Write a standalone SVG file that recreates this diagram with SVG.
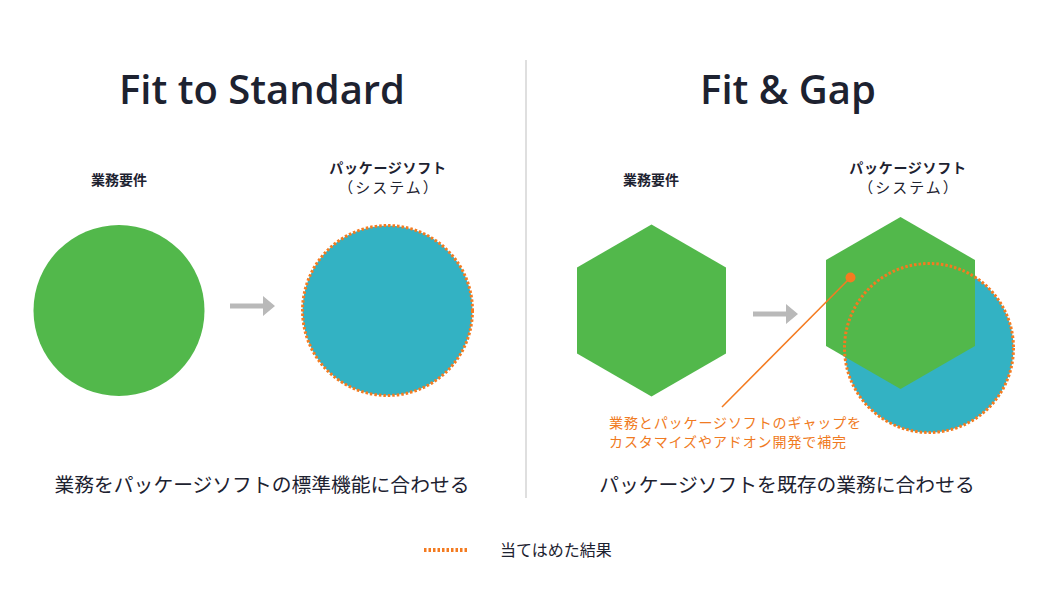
<svg xmlns="http://www.w3.org/2000/svg" width="1050" height="600" viewBox="0 0 1050 600">
<style>
.title{font-family:"Open Sans","Noto Sans CJK JP",sans-serif;font-weight:600;font-size:40px;fill:#1d2230;text-anchor:middle}
.lbl{font-family:"Noto Sans CJK JP",sans-serif;font-weight:700;font-size:14px;fill:#1d2230;text-anchor:middle}
.pkg{letter-spacing:0.7px}
.sub{font-family:"Noto Sans CJK JP",sans-serif;font-size:15px;letter-spacing:2px;fill:#1d2230;text-anchor:middle}
.cap{font-family:"Noto Sans CJK JP",sans-serif;font-size:19.8px;fill:#1d2230;text-anchor:middle}
.note{font-family:"Noto Sans CJK JP",sans-serif;font-size:14px;letter-spacing:0.9px;fill:#f07a22}
.green{fill:#52b84b}
.teal{fill:#33b2c3}
.dots{fill:none;stroke:#f47b20;stroke-width:3;stroke-dasharray:2.5 2}
.arrow{fill:#b9b9b9}
</style>
<defs>
<polygon id="hex" points="0,-86 74.5,-43 74.5,43 0,86 -74.5,43 -74.5,-43"/>
<path id="arr" d="M0,-2.5 H33 V-10 L45,0 L33,10 V2.5 H0 Z"/>
</defs>
<rect width="1050" height="600" fill="#fff"/>
<line x1="526" y1="60" x2="526" y2="498" stroke="#d5d5d5" stroke-width="1.5"/>

<g id="left-title"><text class="title" x="262" y="104">Fit to Standard</text></g>
<g id="right-title"><text class="title" x="788" y="104">Fit &amp; Gap</text></g>

<g id="left-business">
<text class="lbl" x="119" y="185">業務要件</text>
<circle class="green" cx="119" cy="310.5" r="85.5"/>
</g>
<g id="left-package">
<text class="lbl pkg" x="388" y="173">パッケージソフト</text>
<text class="sub" x="389" y="193">（システム）</text>
<circle class="teal" cx="387.5" cy="310.5" r="85"/>
<circle class="dots" cx="387.5" cy="310.5" r="85"/>
</g>

<g id="right-business">
<text class="lbl" x="651" y="185">業務要件</text>
<use href="#hex" class="green" x="651.5" y="310.5"/>
</g>
<g id="right-package">
<text class="lbl pkg" x="908" y="173">パッケージソフト</text>
<text class="sub" x="909" y="193">（システム）</text>
<circle class="teal" cx="929" cy="348" r="84.5"/>
<use href="#hex" class="green" x="900.5" y="303"/>
<circle class="dots" cx="929" cy="348" r="84.5"/>
</g>

<g id="connectors">
<use href="#arr" class="arrow" x="230" y="306"/>
<use href="#arr" class="arrow" x="753" y="314"/>
<line x1="850.5" y1="277.5" x2="722" y2="407" stroke="#f47b20" stroke-width="1.5"/>
<circle cx="850.5" cy="277.5" r="5" fill="#f47b20"/>
</g>

<g id="gap-note">
<text class="note" x="609" y="428">業務とパッケージソフトのギャップを</text>
<text class="note" x="609" y="447">カスタマイズやアドオン開発で補完</text>
</g>

<g id="captions">
<text class="cap" x="262" y="492">業務をパッケージソフトの標準機能に合わせる</text>
<text class="cap" x="787" y="492">パッケージソフトを既存の業務に合わせる</text>
</g>

<g id="legend">
<line x1="424" y1="550" x2="468" y2="550" stroke="#f47b20" stroke-width="4" stroke-dasharray="2.5 2"/>
<text x="500" y="556" font-family="Noto Sans CJK JP,sans-serif" font-size="16" fill="#1d2230">当てはめた結果</text>
</g>
</svg>
